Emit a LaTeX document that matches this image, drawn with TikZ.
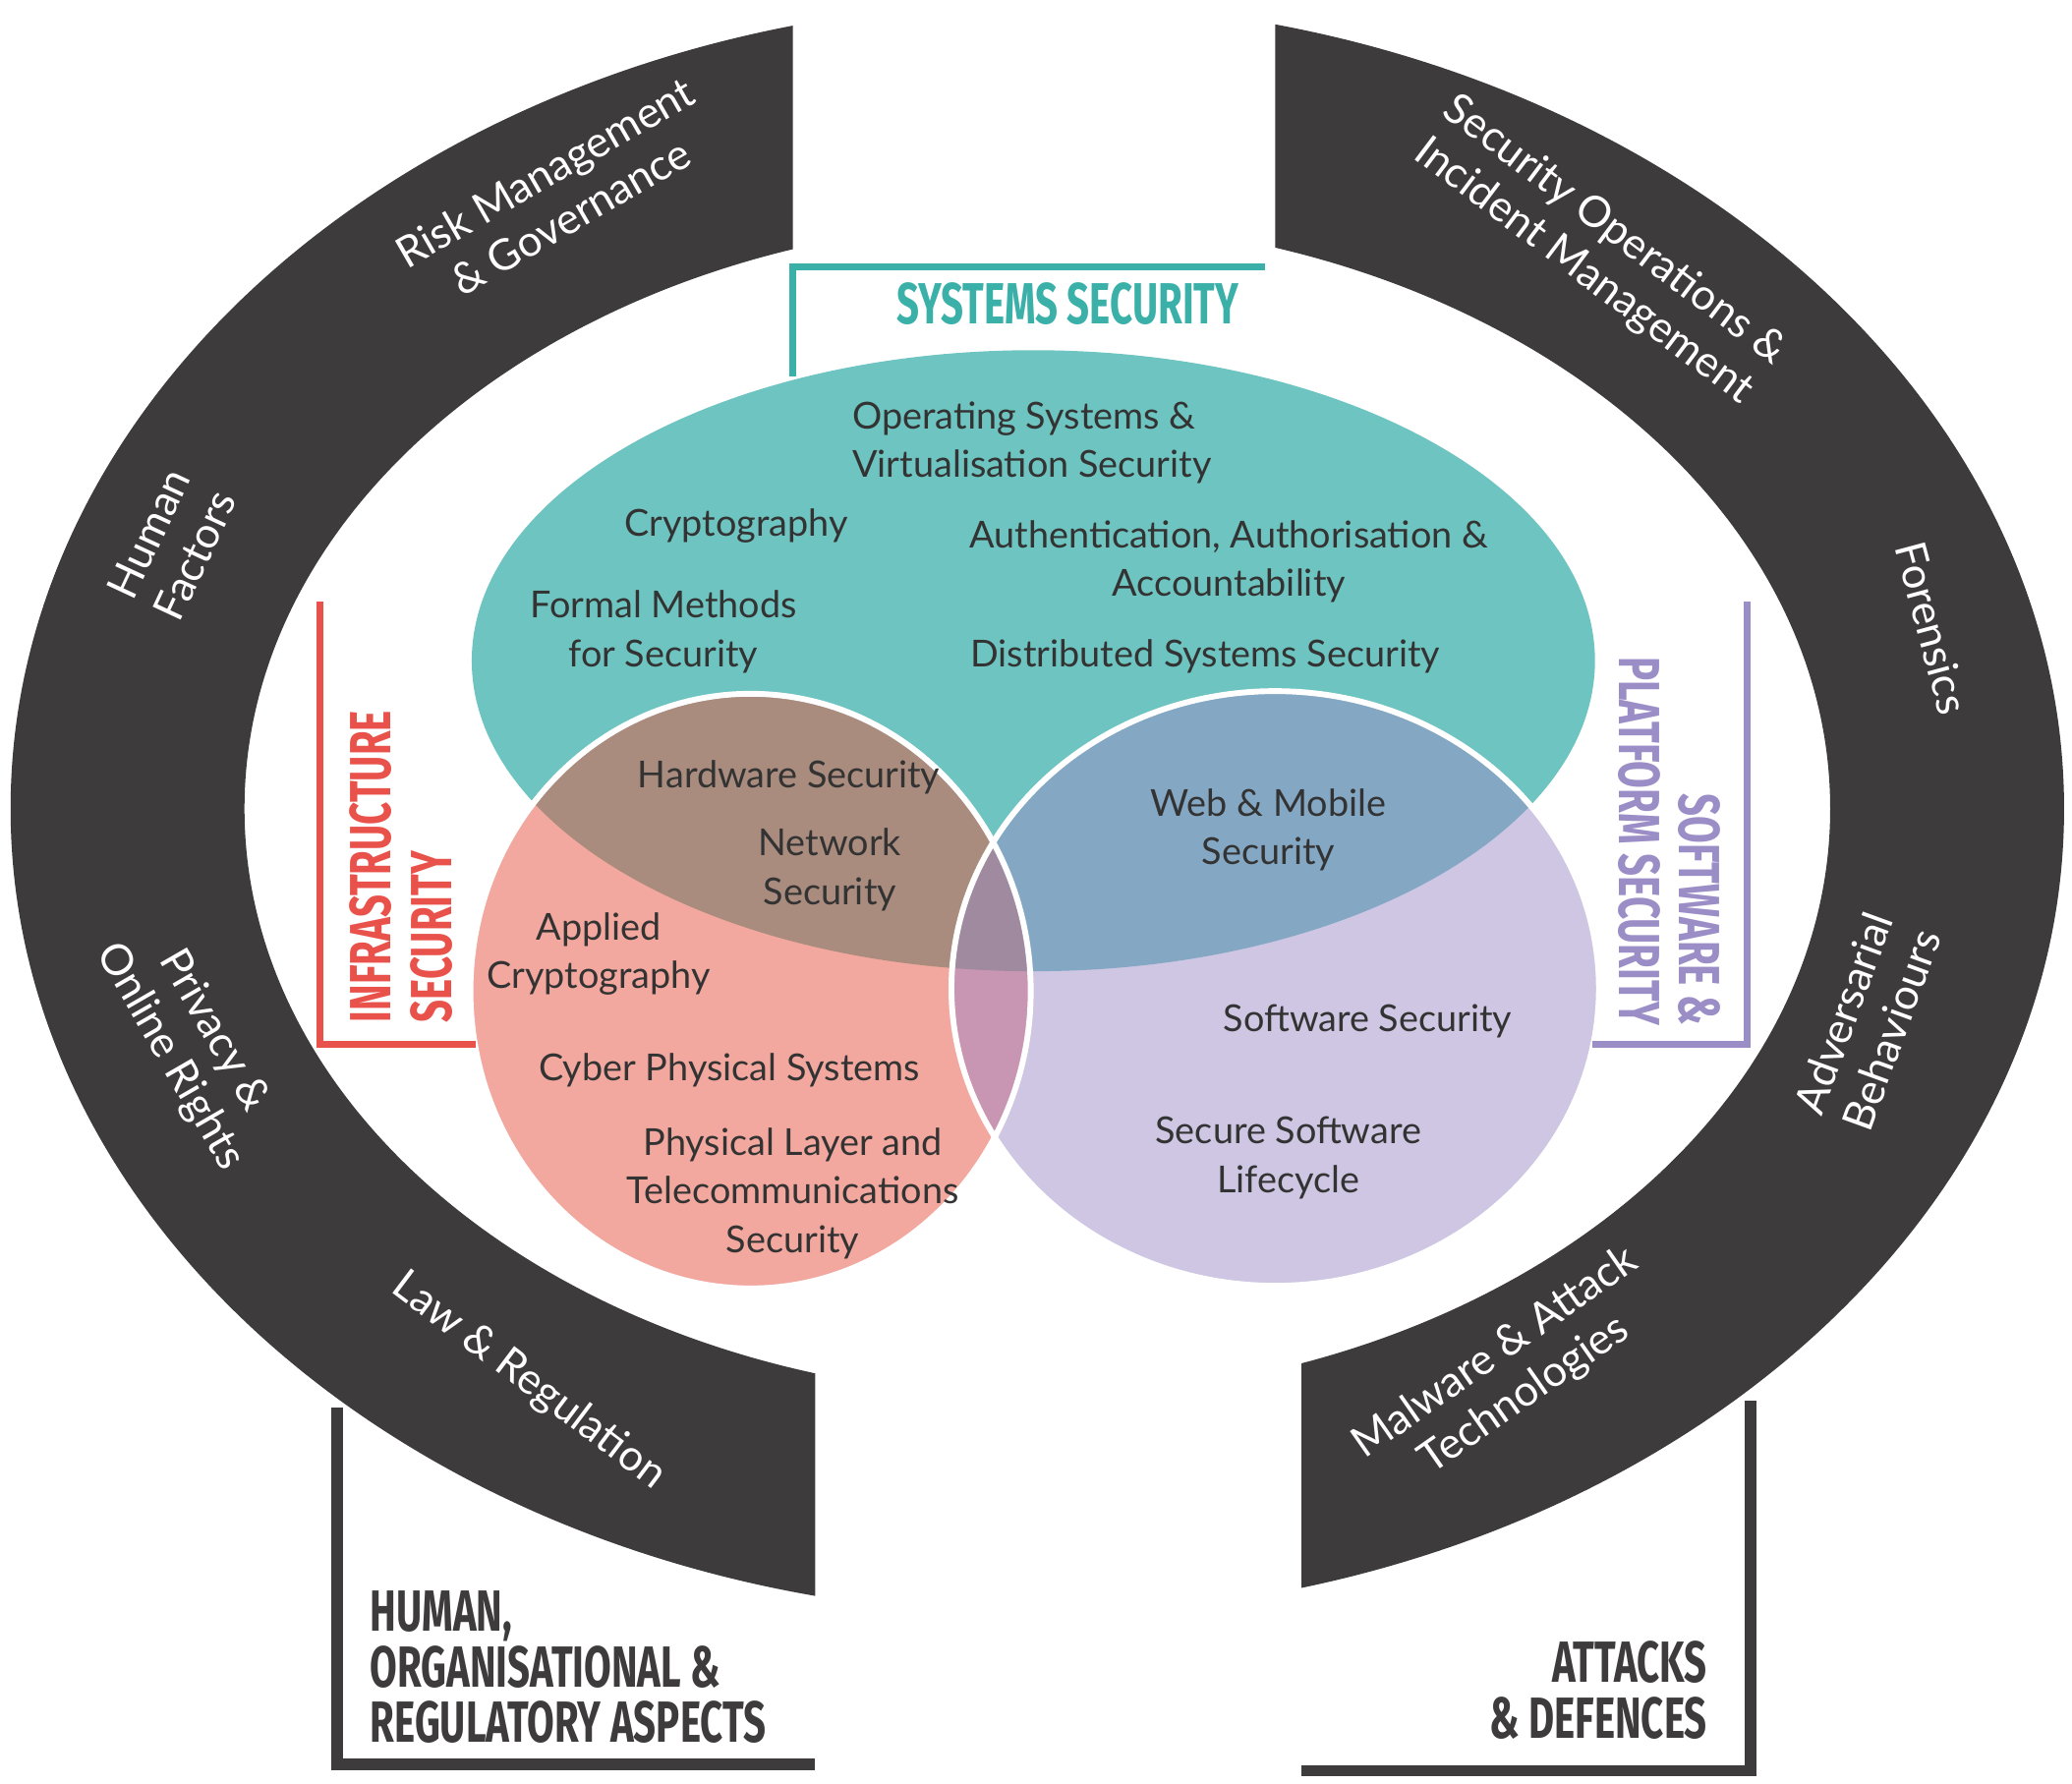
\documentclass[tikz,border=0pt]{standalone}
\usepackage{fontspec}
\setmainfont{Lato}
\newfontfamily\headf{Fira Sans}
\definecolor{dk}{HTML}{3D3B3C}
\definecolor{teal}{HTML}{6EC4C0}
\definecolor{tealtx}{HTML}{3AB0A8}
\definecolor{redc}{HTML}{F2A89E}
\definecolor{redl}{HTML}{E8524A}
\definecolor{purc}{HTML}{CEC6E2}
\definecolor{purl}{HTML}{9B8DC6}
\definecolor{tr}{HTML}{A98C7E}
\definecolor{tp}{HTML}{84A8C4}
\definecolor{rp}{HTML}{C896B2}
\definecolor{trp}{HTML}{9F8AA0}
\definecolor{tx}{HTML}{333333}
\begin{document}
\begin{tikzpicture}[x=0.02cm,y=-0.02cm,
 arc/.style={text=white,font=\fontsize{18.5}{22}\selectfont,align=center},
 inn/.style={text=tx,font=\fontsize{16}{21}\selectfont,align=center},
 head/.style={font=\fontsize{25}{29}\selectfont\headf\bfseries,align=center},
 brk/.style={line width=3pt}]
\useasboundingbox (0,0) rectangle (1568,1350);
% ring
\begin{scope}
\clip (0,0)--(600,0)--(600,600)--(617,600)--(617,1350)--(0,1350)--cycle;
\fill[dk,even odd rule] (785,612) ellipse [x radius=777,y radius=610] (785,612) ellipse [x radius=600,y radius=445];
\end{scope}
\begin{scope}
\clip (965,0)--(1568,0)--(1568,1350)--(985,1350)--(985,600)--(965,600)--cycle;
\fill[dk,even odd rule] (785,612) ellipse [x radius=777,y radius=610] (785,612) ellipse [x radius=600,y radius=445];
\end{scope}
% bottom brackets
\coordinate (l1) at (255,1065); \coordinate (l2) at (255,1335); \coordinate (l3) at (617,1335);
\draw[dk,line width=5pt] (l1)--(l2)--(l3);
\coordinate (r1) at (1325,1060); \coordinate (r2) at (1325,1340); \coordinate (r3) at (985,1340);
\draw[dk,line width=5pt] (r1)--(r2)--(r3);
% venn
\fill[teal] (782,500) ellipse [x radius=425,y radius=235];
\fill[redc] (568,750) ellipse [x radius=212,y radius=225];
\fill[purc] (965,748) ellipse [x radius=245,y radius=225];
\begin{scope}\clip (782,500) ellipse [x radius=425,y radius=235];
 \fill[tr] (568,750) ellipse [x radius=212,y radius=225];
 \fill[tp] (965,748) ellipse [x radius=245,y radius=225];
\end{scope}
\begin{scope}\clip (568,750) ellipse [x radius=212,y radius=225];
 \fill[rp] (965,748) ellipse [x radius=245,y radius=225];
 \clip (965,748) ellipse [x radius=245,y radius=225];
 \fill[trp] (782,500) ellipse [x radius=425,y radius=235];
\end{scope}
\draw[white,line width=2.5pt] (568,750) ellipse [x radius=212,y radius=225];
\draw[white,line width=2.5pt] (965,748) ellipse [x radius=245,y radius=225];
% colored brackets
\coordinate (s1) at (600,285); \coordinate (s2) at (600,202); \coordinate (s3) at (957,202);
\draw[tealtx,brk] (s1)--(s2)--(s3);
\node[head,text=tealtx] (sys) at (808,230) {\scalebox{0.68}[1]{SYSTEMS SECURITY}};
\coordinate (i1) at (242,455); \coordinate (i2) at (242,790); \coordinate (i3) at (360,790);
\draw[redl,brk] (i1)--(i2)--(i3);
\node[head,text=redl,rotate=90,align=left,anchor=north west,font=\fontsize{25}{26.5}\selectfont\headf\bfseries] (inf) at (258,780) {\scalebox{0.68}[1]{INFRASTRUCTURE}\\\scalebox{0.68}[1]{SECURITY}};
\coordinate (p1) at (1322,455); \coordinate (p2) at (1322,790); \coordinate (p3) at (1205,790);
\draw[purl,brk] (p1)--(p2)--(p3);
\node[head,text=purl,rotate=-90,align=right,anchor=north east,font=\fontsize{25}{25.5}\selectfont\headf\bfseries] (sw) at (1308,782) {\scalebox{0.68}[1]{SOFTWARE \&}\\\scalebox{0.68}[1]{PLATFORM SECURITY}};
% bottom labels
\node[head,text=dk,align=left,anchor=north west,font=\fontsize{25}{23.8}\selectfont\headf\bfseries] (hum) at (274,1198) {\scalebox{0.68}[1]{HUMAN,}\\\scalebox{0.68}[1]{ORGANISATIONAL \&}\\\scalebox{0.68}[1]{REGULATORY ASPECTS}};
\node[head,text=dk,align=right,anchor=north east,font=\fontsize{25}{23.8}\selectfont\headf\bfseries] (att) at (1298,1236) {\scalebox{0.68}[1]{ATTACKS}\\\scalebox{0.68}[1]{\& DEFENCES}};
% arc labels
\node[arc,rotate=30] (a1) at (422,147) {Risk Management\\\& Governance};
\node[arc,rotate=65] (a2) at (130,412) {Human\\Factors};
\node[arc,rotate=-60] (a3) at (145,790) {Privacy \&\\Online Rights};
\node[arc,rotate=-37] (a4) at (400,1045) {Law \& Regulation};
\node[arc,rotate=-37] (a5) at (1210,190) {Security Operations \&\\Incident Management};
\node[arc,rotate=-75] (a6) at (1462,475) {Forensics};
\node[arc,rotate=70] (a7) at (1413,773) {Adversarial\\Behaviours};
\node[arc,rotate=35] (a8) at (1143,1040) {Malware \& Attack\\Technologies};
% inner labels
\node[inn,align=left] (t1) at (781,335) {Operating Systems \&\\Virtualisation Security};
\node[inn] (t2) at (557,398) {Cryptography};
\node[inn] (t3) at (930,425) {Authentication, Authorisation \&\\Accountability};
\node[inn] (t4) at (502,478) {Formal Methods\\for Security};
\node[inn] (t5) at (912,497) {Distributed Systems Security};
\node[inn] (t6) at (597,588) {Hardware Security};
\node[inn] (t7) at (628,658) {Network\\Security};
\node[inn] (t8) at (960,628) {Web \& Mobile\\Security};
\node[inn] (t9) at (453,722) {Applied\\Cryptography};
\node[inn] (t10) at (552,810) {Cyber Physical Systems};
\node[inn] (t11) at (600,903) {Physical Layer and\\Telecommunications\\Security};
\node[inn] (t12) at (1035,773) {Software Security};
\node[inn] (t13) at (975,876) {Secure Software\\Lifecycle};
\end{tikzpicture}
\end{document}
